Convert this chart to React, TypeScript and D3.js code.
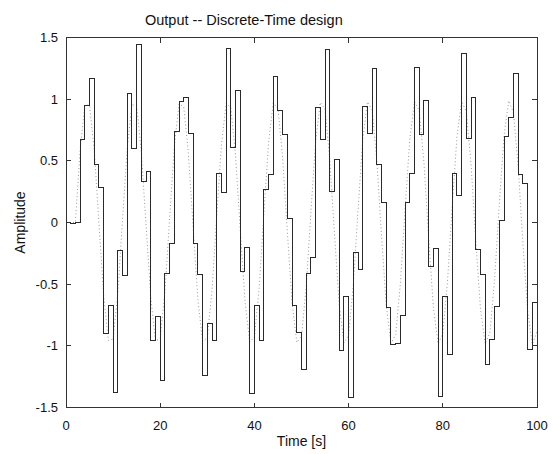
import React from "react";
import * as d3 from "d3";

// Sampled output of the discrete-time design (sample period 1 s, t = 0..99)
const outputValues: number[] = [
  0, -0.01, 0.0, 0.67, 0.945, 1.17, 0.47, 0.28, -0.9, -0.67,
  -1.375, -0.23, -0.43, 1.05, 0.6, 1.44, 0.33, 0.41, -0.96, -0.76,
  -1.28, -0.41, -0.17, 0.74, 0.98, 1.01, 0.72, -0.17, -0.42, -1.24,
  -0.82, -0.96, 0.4, 0.24, 1.41, 0.61, 1.07, -0.4, -0.2, -1.39,
  -0.67, -0.96, 0.27, 0.39, 1.18, 0.91, 0.71, 0.03, -0.67, -0.89,
  -1.19, -0.41, -0.28, 0.93, 0.67, 1.4, 0.25, 0.51, -1.04, -0.6,
  -1.42, -0.24, -0.38, 0.94, 0.72, 1.25, 0.47, 0.16, -0.69, -0.99,
  -0.98, -0.75, 0.16, 0.4, 1.26, 0.71, 0.99, -0.36, -0.21, -1.41,
  -0.6, -1.07, 0.4, 0.22, 1.37, 0.68, 1.01, -0.22, -0.42, -1.15,
  -0.95, -0.68, 0.02, 0.7, 0.85, 1.21, 0.39, 0.32, -1.03, -0.65,
];

// Dotted reference signal, read at t = 0..100
const referenceValues: number[] = [
  0, 0, 0, 0.589, 0.952, 0.95, 0.584, -0.008, -0.596, -0.956,
  -0.946, -0.574, 0.017, 0.603, 0.957, 0.944, 0.569, -0.025, -0.609, -0.96,
  -0.941, -0.562, 0.034, 0.616, 0.962, 0.938, 0.555, -0.042, -0.623, -0.965,
  -0.935, -0.548, 0.05, 0.629, 0.966, 0.932, 0.541, -0.059, -0.636, -0.97,
  -0.928, -0.534, 0.067, 0.642, 0.97, 0.926, 0.527, -0.076, -0.649, -0.973,
  -0.922, -0.52, 0.084, 0.655, 0.974, 0.919, 0.512, -0.092, -0.662, -0.977,
  -0.915, -0.506, 0.101, 0.668, 0.978, 0.913, 0.498, -0.109, -0.675, -0.98,
  -0.908, -0.491, 0.117, 0.68, 0.981, 0.906, 0.483, -0.126, -0.688, -0.983,
  -0.9, -0.477, 0.134, 0.692, 0.984, 0.899, 0.469, -0.142, -0.7, -0.986,
  -0.893, -0.462, 0.151, 0.704, 0.987, 0.891, 0.454, -0.159, -0.712, -0.988,
  -0.885,
];

const xTicks = [0, 20, 40, 60, 80, 100];
const xTickLabels = ["0", "20", "40", "60", "80", "100"];
const yTicks = [-1.5, -1, -0.5, 0, 0.5, 1, 1.5];
const yTickLabels = ["-1.5", "-1", "-0.5", "0", "0.5", "1", "1.5"];

const titleText = "Output -- Discrete-Time design";
const xLabelText = "Time [s]";
const yLabelText = "Amplitude";

export default function App() {
  const W = 558;
  const H = 454;
  const left = 66;
  const right = 537;
  const top = 37.5;
  const bottom = 407.5;
  const font = "'Liberation Sans', Arial, Helvetica, sans-serif";

  const x = d3.scaleLinear().domain([0, 100]).range([left, right]);
  const y = d3.scaleLinear().domain([-1.5, 1.5]).range([bottom, top]);

  const stairsData: [number, number][] = outputValues.map((v, i) => [i, v] as [number, number]);
  stairsData.push([outputValues.length, outputValues[outputValues.length - 1]]);
  const stairsPath = d3
    .line<[number, number]>()
    .x((d) => x(d[0]))
    .y((d) => y(d[1]))
    .curve(d3.curveStepAfter)(stairsData) as string;

  const refPath = d3
    .line<[number, number]>()
    .x((d) => x(d[0]))
    .y((d) => y(d[1]))(referenceValues.map((v, i) => [i, v] as [number, number])) as string;

  const tickLen = 5;

  return (
    <svg
      width={W}
      height={H}
      style={{ position: "absolute", left: 0, top: 0, background: "#fff" }}
      fontFamily={font}
    >
      <rect x={0} y={0} width={W} height={H} fill="#fff" />
      {/* reference (dotted) */}
      <path d={refPath} fill="none" stroke="#999" strokeWidth={1} strokeDasharray="1 2.5" />
      {/* stairs output */}
      <path d={stairsPath} fill="none" stroke="#2a2a2a" strokeWidth={1} shapeRendering="crispEdges" />
      {/* axes box */}
      <rect
        x={left}
        y={top}
        width={right - left}
        height={bottom - top}
        fill="none"
        stroke="#333"
        strokeWidth={1}
        shapeRendering="crispEdges"
      />
      {xTicks.map((t, i) => (
        <g key={"xt" + i} shapeRendering="crispEdges">
          <line x1={x(t)} x2={x(t)} y1={bottom} y2={bottom - tickLen} stroke="#333" />
          <line x1={x(t)} x2={x(t)} y1={top} y2={top + tickLen} stroke="#333" />
          <text x={x(t)} y={430} textAnchor="middle" fontSize={13} fill="#111">
            {xTickLabels[i]}
          </text>
        </g>
      ))}
      {yTicks.map((t, i) => (
        <g key={"yt" + i} shapeRendering="crispEdges">
          <line x1={left} x2={left + tickLen} y1={y(t)} y2={y(t)} stroke="#333" />
          <line x1={right} x2={right - tickLen} y1={y(t)} y2={y(t)} stroke="#333" />
          <text x={58} y={y(t) + 4.5} textAnchor="end" fontSize={13} fill="#111">
            {yTickLabels[i]}
          </text>
        </g>
      ))}
      <text x={145} y={25} fontSize={14.5} fill="#111">
        {titleText}
      </text>
      <text x={(left + right) / 2} y={446} textAnchor="middle" fontSize={14} fill="#111">
        {xLabelText}
      </text>
      <text
        transform={`translate(25, ${(top + bottom) / 2}) rotate(-90)`}
        textAnchor="middle"
        fontSize={14}
        fill="#111"
      >
        {yLabelText}
      </text>
    </svg>
  );
}
